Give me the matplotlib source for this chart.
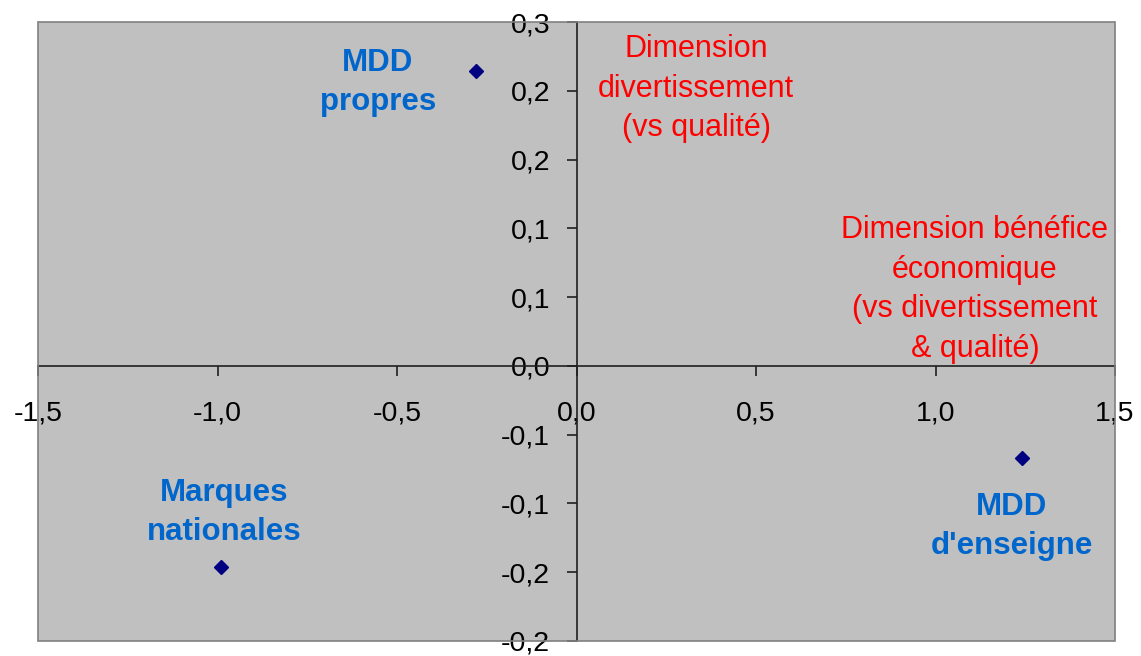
import matplotlib
matplotlib.use("Agg")
import matplotlib.pyplot as plt
from matplotlib.patches import Rectangle

plt.rcParams['font.family'] = ['Liberation Sans', 'DejaVu Sans']

# data
names = ["MDD propres", "Marques nationales", "MDD d'enseigne"]
x_vals = [-0.28, -0.99, 1.24]
y_vals = [0.2145, -0.146, -0.067]

x_ticks = [-1.5, -1.0, -0.5, 0.0, 0.5, 1.0, 1.5]
x_tick_labels = ["-1,5", "-1,0", "-0,5", "0,0", "0,5", "1,0", "1,5"]
y_ticks = [-0.2, -0.15, -0.1, -0.05, 0.0, 0.05, 0.1, 0.15, 0.2, 0.25]
y_tick_labels = ["-0,2", "-0,2", "-0,1", "-0,1", "0,0", "0,1", "0,1", "0,2", "0,2", "0,3"]

point_labels = ["MDD\npropres", "Marques\nnationales", "MDD\nd'enseigne"]
point_label_pos = [(-0.553, 0.206), (-0.982, -0.1065), (1.213, -0.1165)]

dim_labels = ["Dimension\ndivertissement\n(vs qualité)",
              "Dimension bénéfice\néconomique\n(vs divertissement\n& qualité)"]
dim_label_pos = [(0.333, 0.2015), (1.11, 0.0555)]

fig = plt.figure(figsize=(11.41, 6.56), dpi=100)
ax = fig.add_axes([38 / 1141, 15 / 656, 1077 / 1141, 619 / 656])
ax.set_facecolor("#C0C0C0")

ax.set_xlim(-1.5, 1.5)
ax.set_ylim(-0.2, 0.25)

# axes crossing at the origin
ax.spines['left'].set_position(('data', 0))
ax.spines['bottom'].set_position(('data', 0))
ax.spines['top'].set_visible(False)
ax.spines['right'].set_visible(False)
for s in ['left', 'bottom']:
    ax.spines[s].set_color("#202020")
    ax.spines[s].set_linewidth(1.2)

ax.add_patch(Rectangle((0, 0), 1, 1, transform=ax.transAxes, fill=False,
                       edgecolor="#808080", linewidth=1.2, zorder=5, clip_on=False))

ax.set_xticks(x_ticks)
ax.set_xticklabels(x_tick_labels)
ax.set_yticks(y_ticks)
ax.set_yticklabels(y_tick_labels)
ax.tick_params(axis='x', direction='out', length=7, width=1.2, pad=18, labelsize=20.5, color="#202020")
ax.tick_params(axis='y', direction='out', length=7, width=1.2, pad=12, labelsize=20.5, color="#202020")

ax.plot(x_vals, y_vals, linestyle='none', marker='D', markersize=7.5,
        color="#000080", zorder=6)

for txt, (tx, ty) in zip(point_labels, point_label_pos):
    ax.text(tx, ty, txt, ha='center', va='center', color="#0066CC",
            fontsize=22.5, fontweight='bold', linespacing=1.39)

for txt, (tx, ty) in zip(dim_labels, dim_label_pos):
    ax.text(tx, ty, txt, ha='center', va='center', color="#FF0000",
            fontsize=22, linespacing=1.42)

fig.savefig("out.png", dpi=100)
